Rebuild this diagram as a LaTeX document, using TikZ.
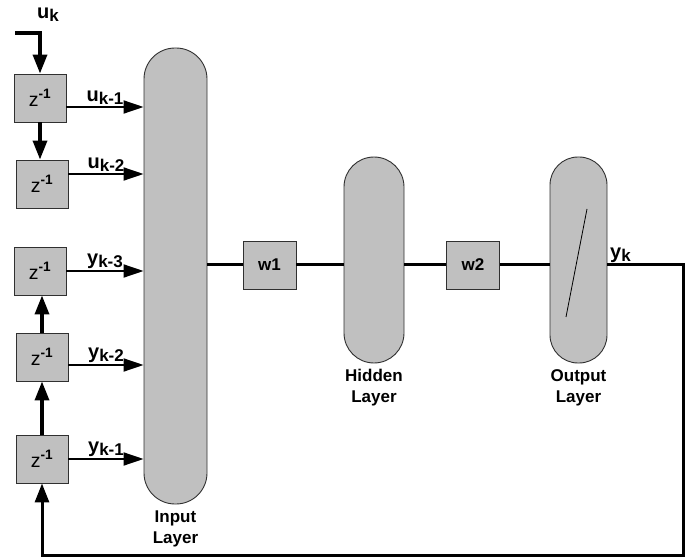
\documentclass[tikz,border=0pt]{standalone}
\usepackage{fontspec}
\setmainfont{Liberation Sans}
\usetikzlibrary{arrows.meta,positioning,calc}
\definecolor{layergray}{HTML}{C0C0C0}
\definecolor{edgegray}{HTML}{303030}
\newcommand{\zinv}{z\textsuperscript{\bfseries -1}}
\newcommand{\sigsub}[2]{#1\raisebox{-3pt}{\fontsize{17}{20}\selectfont #2}}

\begin{document}
\begin{tikzpicture}[
    x=1pt, y=-1pt,
    delay/.style={draw=edgegray, line width=0.9pt, fill=layergray, minimum width=52pt, minimum height=48pt, inner sep=0pt, font=\fontsize{19.5}{22}\selectfont},
    weight/.style={draw=edgegray, line width=0.9pt, fill=layergray, minimum width=53pt, minimum height=48pt, inner sep=0pt, font=\fontsize{17}{20}\selectfont\bfseries},
    layer/.style={draw=edgegray, line width=0.9pt, fill=layergray, inner sep=0pt},
    lbl/.style={font=\fontsize{17}{21}\selectfont\bfseries, align=center, inner sep=1pt},
    sig/.style={font=\fontsize{20}{22}\selectfont\bfseries, inner sep=1.5pt},
    tap/.style={-{Triangle[length=20pt,width=13pt]}, line width=1.8pt},
    chain/.style={-{Triangle[length=19pt,width=14pt]}, line width=3.5pt},
    bus/.style={line width=3pt}
  ]
  \useasboundingbox (0,0) rectangle (689,559);

  % Delay line for u
  \node[delay] (zu1) at (40,98) {\zinv};
  \node[delay] (zu2) at (42,184) {\zinv};

  % Delay line for y
  \node[delay] (zy3) at (40,271) {\zinv};
  \node[delay] (zy2) at (42,357) {\zinv};
  \node[delay] (zy1) at (42,459) {\zinv};

  % Layers
  \node[layer, rounded corners=31pt, minimum width=63pt, minimum height=456pt] (inp) at (175.5,276) {};
  \node[layer, rounded corners=30pt, minimum width=60pt, minimum height=206pt] (hid) at (374,260) {};
  \node[layer, rounded corners=28pt, minimum width=57pt, minimum height=206pt] (outl) at (578.5,260) {};
  \draw[line width=0.8pt] ($(outl.center)+(-12.5,57)$) -- ($(outl.center)+(8.5,-51)$);

  \node[lbl, below=5pt of inp] (inplbl) {Input\\Layer};
  \node[lbl, below=5pt of hid] (hidlbl) {Hidden\\Layer};
  \node[lbl, below=5pt of outl] (outlbl) {Output\\Layer};

  % Weights
  \node[weight] (w1) at (269.5,265) {w1};
  \node[weight] (w2) at (473,265) {w2};

  % Signals
  \node[sig] (uklbl) at (48,15) {\sigsub{u}{k}};
  \coordinate (uin) at (15,33);
  \coordinate (fbc) at (683,555);
  \node[sig, anchor=south west] (yklbl) at ($(outl.east |- w2.east)+(1,-1)$) {\sigsub{y}{k}};

  % Edges
  \draw[chain] (uin) -| (zu1.north);
  \draw[chain] (zu1.south) -- (zu1.south |- zu2.north);
  \draw[chain] (zy1.north) -- (zy1.north |- zy2.south);
  \draw[chain] (zy2.north) -- (zy2.north |- zy3.south);
  \draw[chain, line width=3pt] (w2.east -| outl.east) -| (fbc) -| (zy1.south);

  \draw[tap] ([yshift=-9pt]zu1.east) -- ([yshift=-9pt]zu1.east -| inp.west) node[midway, above, sig] {\sigsub{u}{k-1}};
  \draw[tap] ([yshift=10pt]zu2.east) -- ([yshift=10pt]zu2.east -| inp.west) node[midway, above, sig] {\sigsub{u}{k-2}};
  \draw[tap] (zy3.east) -- (zy3.east -| inp.west) node[midway, above, sig] {\sigsub{y}{k-3}};
  \draw[tap] ([yshift=-8pt]zy2.east) -- ([yshift=-8pt]zy2.east -| inp.west) node[midway, above, sig] {\sigsub{y}{k-2}};
  \draw[tap] (zy1.east) -- (zy1.east -| inp.west) node[midway, above, sig] {\sigsub{y}{k-1}};

  \draw[bus] (inp.east |- w1.west) -- (w1.west);
  \draw[bus] (w1.east) -- (w1.east -| hid.west);
  \draw[bus] (hid.east |- w2.west) -- (w2.west);
  \draw[bus] (w2.east) -- (w2.east -| outl.west);
\end{tikzpicture}
\end{document}
